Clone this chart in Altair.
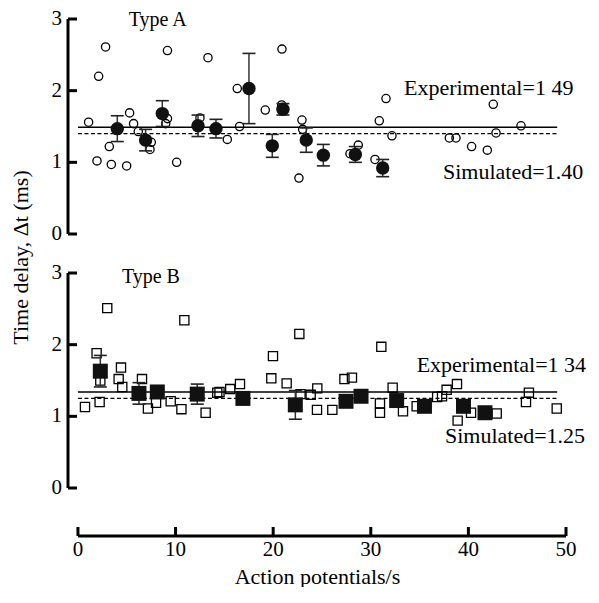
import altair as alt
import pandas as pd

# ---------------- data ----------------
# Type A: individual cells (open circles)
a_x = [1.09, 2.83, 2.12, 1.95, 3.42, 4.99, 3.21, 5.29, 5.70, 6.18, 7.51, 7.38, 9.17, 9.17, 8.99,
       10.11, 13.32, 12.50, 15.30, 16.32, 16.56, 20.90, 19.19, 20.87, 22.95, 23.02, 22.64, 27.87,
       28.72, 30.43, 30.87, 31.56, 32.17, 42.55, 38.05, 38.73, 40.33, 41.94, 42.83, 45.39]
a_y = [1.56, 2.61, 2.20, 1.02, 0.97, 0.95, 1.22, 1.69, 1.54, 1.43, 1.28, 1.18, 2.56, 1.61, 1.54,
       1.00, 2.46, 1.62, 1.32, 2.03, 1.50, 2.58, 1.73, 1.80, 1.59, 1.46, 0.78, 1.12,
       1.24, 1.04, 1.58, 1.89, 1.37, 1.81, 1.34, 1.34, 1.22, 1.17, 1.41, 1.51]
# Type A: binned means (filled circles) with error
am_x = [4.03, 6.93, 8.64, 12.30, 14.14, 17.52, 19.91, 21.00, 23.39, 25.14, 28.42, 31.22]
am_y = [1.47, 1.31, 1.68, 1.51, 1.47, 2.03, 1.23, 1.74, 1.31, 1.10, 1.11, 0.92]
am_e = [0.18, 0.15, 0.18, 0.15, 0.13, 0.49, 0.16, 0.08, 0.17, 0.15, 0.11, 0.12]

# Type B: individual cells (open squares)
b_x = [3.00, 10.90, 1.91, 0.72, 2.22, 4.41, 4.17, 4.54, 2.29, 6.56, 7.17, 8.00, 9.50, 10.60,
       13.08, 14.27, 14.50, 15.60, 16.60, 22.68, 19.98, 19.81, 21.38, 22.80, 23.84, 24.52, 24.49,
       26.06, 27.30, 28.07, 31.08, 32.24, 30.94, 30.94, 33.30, 34.70, 36.80, 37.30, 37.77, 38.83,
       40.27, 38.90, 42.90, 46.20, 45.90, 49.05]
b_y = [2.51, 2.34, 1.88, 1.13, 1.20, 1.68, 1.52, 1.41, 1.50, 1.52, 1.11, 1.19, 1.21, 1.10,
       1.05, 1.33, 1.34, 1.38, 1.45, 2.15, 1.84, 1.53, 1.46, 1.31, 1.30, 1.39, 1.09,
       1.09, 1.52, 1.54, 1.97, 1.40, 1.18, 1.05, 1.07, 1.14, 1.27, 1.28, 1.37, 1.45,
       1.05, 0.94, 1.04, 1.33, 1.20, 1.11]
# Type B: binned means (filled squares) with error
bm_x = [2.29, 6.25, 8.13, 12.22, 16.90, 22.27, 27.46, 29.00, 32.65, 35.50, 39.50, 41.70]
bm_y = [1.63, 1.32, 1.34, 1.31, 1.25, 1.16, 1.21, 1.28, 1.22, 1.14, 1.14, 1.05]
bm_e = [0.22, 0.15, 0.05, 0.14, 0.05, 0.20, 0.07, 0.04, 0.07, 0.08, 0.07, 0.03]

exp_a, sim_a = 1.49, 1.40
exp_b, sim_b = 1.34, 1.25
line_span = [0, 49.1]

y_ticks = [0, 1, 2, 3]
x_ticks = [0, 10, 20, 30, 40, 50]

FONT = "Liberation Serif"
INK = "#000000"
X_DOMAIN = [-1.02, 50]
PW, PH = 498, 215
AXW = 3

xs = alt.Scale(domain=X_DOMAIN, nice=False, zero=False)
ys = alt.Scale(domain=[0, 3], nice=False, zero=False)


def panel(ind_x, ind_y, m_x, m_y, m_e, shape, s_open, s_fill, exp_v, sim_v,
          label, label_xy, exp_label, exp_xy, sim_label, sim_xy, show_title):
    ind = pd.DataFrame({"x": ind_x, "y": ind_y})
    mean = pd.DataFrame({"x": m_x, "y": m_y,
                         "lo": [v - e for v, e in zip(m_y, m_e)],
                         "hi": [v + e for v, e in zip(m_y, m_e)]})
    lines = pd.DataFrame({"x": [line_span[0]] * 2, "x2": [line_span[1]] * 2,
                          "y": [exp_v, sim_v], "kind": ["exp", "sim"]})
    labels = pd.DataFrame({"x": [label_xy[0]], "y": [label_xy[1]], "t": [label]})
    texts = pd.DataFrame({"x": [exp_xy[0], sim_xy[0]],
                          "y": [exp_xy[1], sim_xy[1]],
                          "t": [exp_label, sim_label]})
    ticks = pd.DataFrame({"y": y_ticks})
    dom = pd.DataFrame({"y": [y_ticks[0]], "y2": [y_ticks[-1]]})

    if show_title:
        yaxis = alt.Axis(labels=False, domain=False, ticks=False, grid=False,
                         title="Time delay, Δt (ms)", titleFont=FONT, titleFontSize=22,
                         titleFontWeight="normal", titleColor=INK,
                         titleY=238, titlePadding=36)
    else:
        yaxis = None

    def Y(field):
        return alt.Y(field, scale=ys, axis=yaxis)

    base_x = alt.X("x:Q", scale=xs, axis=None)

    ydomain = alt.Chart(dom).mark_rule(color=INK, strokeWidth=AXW).encode(
        y=Y("y:Q"), y2="y2:Q", x=alt.value(0))
    ytick_layer = alt.Chart(ticks).mark_rule(color=INK, strokeWidth=AXW).encode(
        y=Y("y:Q"), x=alt.value(0), x2=alt.value(9))
    ylabels = alt.Chart(ticks).mark_text(
        font=FONT, fontSize=21, color=INK, align="right", baseline="middle").encode(
        y=Y("y:Q"), x=alt.value(-6), text=alt.Text("y:Q", format="d"))

    exp_line = alt.Chart(lines[lines.kind == "exp"]).mark_rule(
        color=INK, strokeWidth=1.4).encode(x=base_x, x2="x2:Q", y=Y("y:Q"))
    sim_line = alt.Chart(lines[lines.kind == "sim"]).mark_rule(
        color=INK, strokeWidth=1.4, strokeDash=[4, 2.5]).encode(
        x=base_x, x2="x2:Q", y=Y("y:Q"))

    open_pts = alt.Chart(ind).mark_point(
        shape=shape, filled=False, size=s_open, strokeWidth=1.3, color=INK,
        opacity=1).encode(x=base_x, y=Y("y:Q"))

    err = alt.Chart(mean).mark_rule(color="#333333", strokeWidth=1.5).encode(
        x=base_x, y=Y("lo:Q"), y2="hi:Q")
    cap_hi = alt.Chart(mean).mark_tick(
        orient="horizontal", color="#222222", thickness=1.6, size=13, opacity=1).encode(
        x=base_x, y=Y("hi:Q"))
    cap_lo = alt.Chart(mean).mark_tick(
        orient="horizontal", color="#222222", thickness=1.6, size=13, opacity=1).encode(
        x=base_x, y=Y("lo:Q"))

    fill_pts = alt.Chart(mean).mark_point(
        shape=shape, filled=True, size=s_fill, color="#111111", opacity=1).encode(
        x=base_x, y=Y("y:Q"))

    lab = alt.Chart(labels).mark_text(
        font=FONT, fontSize=20, color=INK, align="left", baseline="middle").encode(
        x=base_x, y=Y("y:Q"), text="t:N")
    txt = alt.Chart(texts).mark_text(
        font=FONT, fontSize=22, color=INK, align="left", baseline="middle").encode(
        x=base_x, y=Y("y:Q"), text="t:N")

    return alt.layer(ydomain, ytick_layer, ylabels, exp_line, sim_line, open_pts, err,
                     cap_hi, cap_lo, fill_pts, lab, txt).properties(width=PW, height=PH)


top = panel(a_x, a_y, am_x, am_y, am_e, "circle", 68, 180, exp_a, sim_a,
            "Type A", (5.2, 2.99), "Experimental=1 49", (33.4, 2.04),
            "Simulated=1.40", (37.4, 0.86), True)
bottom = panel(b_x, b_y, bm_x, bm_y, bm_e, "square", 84, 225, exp_b, sim_b,
               "Type B", (4.5, 2.94), "Experimental=1 34", (34.7, 1.72),
               "Simulated=1.25", (37.6, 0.72), False)

# separate x axis drawn below, ticks pointing up
xt = pd.DataFrame({"x": x_ticks})
xline = pd.DataFrame({"x": [x_ticks[0]], "x2": [x_ticks[-1]]})
xaxis = alt.Axis(labels=False, domain=False, ticks=False, grid=False,
                 title="Action potentials/s", titleFont=FONT, titleFontSize=22,
                 titleFontWeight="normal", titleColor=INK, titlePadding=30)
xtick_layer = alt.Chart(xt).mark_rule(color=INK, strokeWidth=AXW).encode(
    x=alt.X("x:Q", scale=xs, axis=xaxis), y=alt.value(0), y2=alt.value(9))
xlabels = alt.Chart(xt).mark_text(
    font=FONT, fontSize=21, color=INK, align="center", baseline="top").encode(
    x=alt.X("x:Q", scale=xs, axis=xaxis), y=alt.value(12),
    text=alt.Text("x:Q", format="d"))
xbase = alt.Chart(xline).mark_rule(color=INK, strokeWidth=AXW).encode(
    x=alt.X("x:Q", scale=xs, axis=xaxis), x2="x2:Q", y=alt.value(9))
xchart = alt.layer(xtick_layer, xbase, xlabels).properties(width=PW, height=9)

chart = alt.vconcat(top, bottom, xchart, spacing=39, bounds="flush").properties(
    padding={"left": 1, "top": 0, "right": 0, "bottom": 0}, background="white"
).configure_view(stroke=None)

chart.save("out.html", embed_options={"renderer": "svg", "actions": False})
